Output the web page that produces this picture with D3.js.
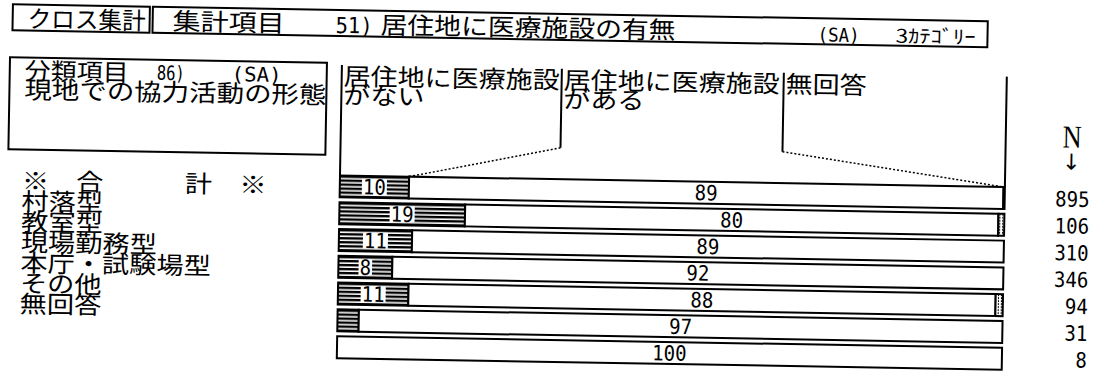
<!DOCTYPE html>
<html>
<head>
<meta charset="utf-8">
<script src="https://cdn.jsdelivr.net/npm/d3@7"></script>
<style>
  html, body { margin: 0; padding: 0; background: #fff; }
  svg { display: block; }
</style>
</head>
<body>
<svg id="chart" width="1103" height="376"></svg>
<script>
/* Cross-tab print-out: 居住地に医療施設の有無 by 現地での協力活動の形態.
 * The scan is tilted about 1 degree, so everything sits in one rotated group. */

const categories = ["※　合　　　計　※", "村落型", "教室型", "現場勤務型", "本庁・試験場型", "その他", "無回答"];
const noneValues = [10.4, 18.9, 11.0, 8.1, 10.6, 3.2, 0];      // 医療施設がない (%)
const haveValues = [89.4, 80.2, 89.0, 91.9, 88.3, 96.8, 100];  // 医療施設がある (%)
const naValues   = [0.2, 0.9, 0, 0, 1.1, 0, 0];                // 無回答 (%)
const nValues    = [895, 106, 310, 346, 94, 31, 8];
const columnHeads = [["居住地に医療施設", "がない"], ["居住地に医療施設", "がある"], ["無回答", ""]];

const CJK = '"Noto Sans CJK JP", sans-serif';
const MONO = '"DejaVu Sans Mono", monospace';

const svg = d3.select("#chart");
const defs = svg.append("defs");

// horizontal-stripe fill used for the がない segment
const hatch = defs.append("pattern")
  .attr("id", "hatch").attr("patternUnits", "userSpaceOnUse")
  .attr("width", 8).attr("height", 4);
hatch.append("rect").attr("width", 8).attr("height", 4).attr("fill", "#fff");
hatch.append("rect").attr("width", 8).attr("height", 2.4).attr("fill", "#000");

const dots = defs.append("pattern")
  .attr("id", "dots").attr("patternUnits", "userSpaceOnUse")
  .attr("width", 3).attr("height", 3);
dots.append("rect").attr("width", 3).attr("height", 3).attr("fill", "#fff");
dots.append("rect").attr("x", 1).attr("width", 1).attr("height", 2).attr("fill", "#000");

const g = svg.append("g").attr("transform", "rotate(1, 340, 175)");

// ---- helpers
function txt(s, x, y, w, size, family, anchor) {
  const t = g.append("text")
    .attr("x", x).attr("y", y)
    .attr("font-family", family || CJK)
    .attr("font-size", size)
    .attr("fill", "#000")
    .text(s);
  if (w) t.attr("textLength", w).attr("lengthAdjust", "spacingAndGlyphs");
  if (anchor) t.attr("text-anchor", anchor);
  return t;
}
function line(x1, y1, x2, y2, w, dash) {
  const l = g.append("line")
    .attr("x1", x1).attr("y1", y1).attr("x2", x2).attr("y2", y2)
    .attr("stroke", "#000").attr("stroke-width", w || 2);
  if (dash) l.attr("stroke-dasharray", dash);
  return l;
}
function box(x, y, w, h) {
  g.append("rect").attr("x", x).attr("y", y).attr("width", w).attr("height", h)
    .attr("fill", "none").attr("stroke", "#000").attr("stroke-width", 2);
}

// ---- title strip
box(10, 10, 137, 26);
box(150, 10, 835, 26);
txt("クロス集計", 25, 33, 118, 24);
txt("集計項目", 170, 33, 112, 24);
txt("51)", 333, 33, 37, 22, MONO);
txt("居住地に医療施設の有無", 378, 33, 295, 24);
txt("(SA)", 815, 33, 42, 19, MONO);
txt("3ｶﾃｺﾞﾘｰ", 893, 33, 80, 19, CJK);

// ---- stub header box
box(8, 63, 317, 92);
txt("分類項目", 23, 85, 104, 24);
txt("86)", 155, 83, 28, 20, MONO);
txt("(SA)", 230, 83, 50, 20, MONO);
txt("現地での協力活動の形態", 23, 104, 302, 24);

// ---- scales
const x = d3.scaleLinear().domain([0, 100]).range([340, 1005]);
const y = d3.scaleBand().domain(d3.range(categories.length))
  .range([173, 360.6]).paddingInner(0.18).paddingOuter(0.09);
const colX = [340, 560, 782, 1005];

const barTop = y(0);

// column headers
columnHeads.forEach((h, i) => {
  txt(h[0], colX[i] + 2, 85, h[0].length * 27, 24);
  if (h[1]) txt(h[1], colX[i] + 2, 104, h[1].length * 27, 24);
});
line(colX[0], 65, colX[0], barTop);
line(colX[1], 65, colX[1], 144);
line(colX[2], 65, colX[2], 144);
line(colX[3], 65, colX[3], barTop);
// leader lines down to the total bar's cumulative boundaries
line(colX[1], 144, x(noneValues[0]), barTop, 1.5, "2,2");
line(colX[2], 144, x(noneValues[0] + haveValues[0]), barTop, 1.5, "2,2");

// N header
txt("N", 1062, 135, 19, 32, '"Liberation Serif", serif');
txt("↓", 1071, 157, null, 22, '"DejaVu Sans", sans-serif', "middle");

// ---- row labels (printed with tighter line pitch than the bars)
const labelY = d3.scaleLinear().domain([0, categories.length - 1]).range([195, 318]);
categories.forEach((c, i) => {
  txt(c, 22, labelY(i), c.length * 27.2, 24);
});

// ---- bars
const rows = categories.map((c, i) => ({
  i,
  segs: [
    { k: "none", v0: 0, v1: noneValues[i], v: noneValues[i] },
    { k: "have", v0: noneValues[i], v1: noneValues[i] + haveValues[i], v: haveValues[i] },
    { k: "na", v0: noneValues[i] + haveValues[i], v1: noneValues[i] + haveValues[i] + naValues[i], v: naValues[i] }
  ].filter(s => s.v > 0)
}));

const fills = { none: "url(#hatch)", have: "#fff", na: "url(#dots)" };

const rowG = g.selectAll("g.row").data(rows).join("g").attr("class", "row")
  .attr("transform", d => `translate(0,${y(d.i)})`);

rowG.selectAll("rect.seg").data(d => d.segs).join("rect")
  .attr("class", "seg")
  .attr("x", s => x(s.v0))
  .attr("y", 0)
  .attr("width", s => Math.max(1, x(s.v1) - x(s.v0)))
  .attr("height", y.bandwidth())
  .attr("fill", s => fills[s.k])
  .attr("stroke", "#000").attr("stroke-width", 2);

const digitW = 11.5;
const labelled = rowG.selectAll("g.lab").data(d => d.segs.filter(s => s.k !== "na" && s.v >= 5))
  .join("g").attr("class", "lab");
labelled.filter(s => s.k === "none").append("rect")
  .attr("x", s => (x(s.v0) + x(s.v1)) / 2 - String(Math.round(s.v)).length * digitW / 2 - 1)
  .attr("y", 3)
  .attr("width", s => String(Math.round(s.v)).length * digitW + 2)
  .attr("height", y.bandwidth() - 6)
  .attr("fill", "#fff");
labelled.append("text")
  .attr("x", s => (x(s.v0) + x(s.v1)) / 2)
  .attr("y", y.bandwidth() / 2 + 7.5)
  .attr("text-anchor", "middle")
  .attr("font-family", MONO).attr("font-size", 21)
  .attr("textLength", s => String(Math.round(s.v)).length * digitW)
  .attr("lengthAdjust", "spacingAndGlyphs")
  .text(s => Math.round(s.v));

// ---- N column
g.selectAll("text.n").data(nValues).join("text")
  .attr("class", "n")
  .attr("x", 1090)
  .attr("y", (d, i) => y(i) + y.bandwidth() / 2 + 7.5)
  .attr("text-anchor", "end")
  .attr("font-family", MONO).attr("font-size", 21)
  .attr("textLength", d => String(d).length * digitW)
  .attr("lengthAdjust", "spacingAndGlyphs")
  .text(d => d);
</script>
</body>
</html>
